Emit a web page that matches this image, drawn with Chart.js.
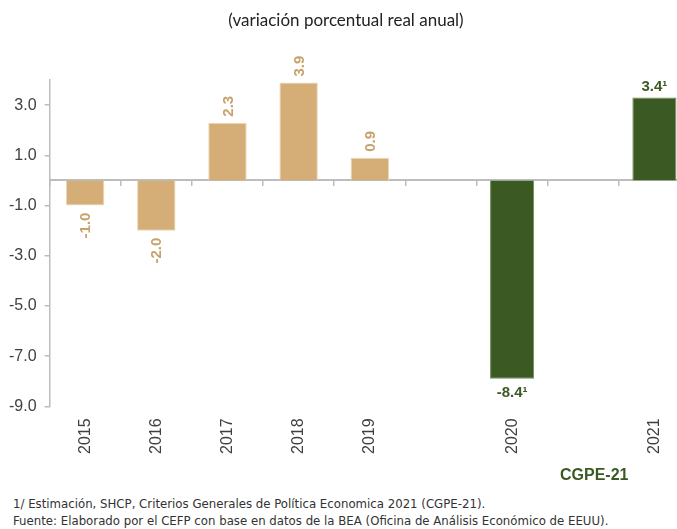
<!DOCTYPE html>
<html>
<head>
<meta charset="utf-8">
<script src="https://cdn.jsdelivr.net/npm/chart.js@4"></script>
<style>
  html, body { margin: 0; padding: 0; background: #fff; overflow: hidden; }
  body { width: 677px; height: 529px; position: relative; }
  #chart { position: absolute; left: 0; top: 0; }
  .titulo { position: absolute; left: 0; width: 692px; top: 9px; text-align: center;
    font: 17px Lato, sans-serif; color: #222; }
  .fuente { position: absolute; left: 13px; font: 11.75px "DejaVu Sans", sans-serif; color: #333; white-space: nowrap; }
  .cgpe { position: absolute; left: 560px; top: 466px; font: bold 16px "Liberation Sans", sans-serif; color: #3b5a23; }
</style>
</head>
<body>
<canvas id="chart" width="700" height="483"></canvas>
<div class="titulo">(variación porcentual real anual)</div>
<div class="cgpe">CGPE-21</div>
<div class="fuente" style="top:497px">1/ Estimación, SHCP, Criterios Generales de Política Economica 2021 (CGPE-21).</div>
<div class="fuente" style="top:514px">Fuente: Elaborado por el CEFP con base en datos de la BEA (Oficina de Análisis Económico de EEUU).</div>
<script>
// categorias (los huecos vacios separan los anios estimados)
const anios = ["2015", "2016", "2017", "2018", "2019", "", "2020", "", "2021"];

// observado
const observado = [-1.0, -2.0, 2.3, 3.9, 0.9, null, null, null, null];
// estimado CGPE-21 (altura de barra como se ve en la grafica)
const estimado = [null, null, null, null, null, null, -7.9, null, 3.3];
// texto de etiquetas
const etiquetas = ["-1.0", "-2.0", "2.3", "3.9", "0.9", "", "-8.4\u00b9", "", "3.4\u00b9"];

const ticksY = [-9, -7, -5, -3, -1, 1, 3];

const colorObs = "#d4ad77";
const colorEst = "#3b5a23";
const gris = "#bdbdbd";
const texto = "#404040";

// ================== etiquetas de valor ==================
const etiquetasPlugin = {
  id: "etiquetas",
  afterDatasetsDraw(chart) {
    const ctx = chart.ctx;
    chart.data.datasets.forEach((ds, di) => {
      const meta = chart.getDatasetMeta(di);
      meta.data.forEach((bar, i) => {
        const v = ds.data[i];
        if (v === null) return;
        ctx.save();
        if (di === 0) {
          ctx.fillStyle = "#c9a16b";
          ctx.font = "bold 15px 'Liberation Sans', sans-serif";
          ctx.textBaseline = "middle";
          if (v >= 0) {
            ctx.translate(bar.x, bar.y - 6);
            ctx.rotate(-Math.PI / 2);
            ctx.textAlign = "left";
          } else {
            ctx.translate(bar.x, bar.y + 7);
            ctx.rotate(-Math.PI / 2);
            ctx.textAlign = "right";
          }
          ctx.fillText(etiquetas[i], 0, 1);
        } else {
          ctx.fillStyle = colorEst;
          ctx.font = "bold 15px 'Liberation Sans', sans-serif";
          ctx.textAlign = "center";
          ctx.textBaseline = "middle";
          ctx.fillText(etiquetas[i], bar.x, v >= 0 ? bar.y - 11 : bar.y + 14);
        }
        ctx.restore();
      });
    });
  },
};

const ctx = document.getElementById("chart").getContext("2d");
new Chart(ctx, {
  type: "bar",
  data: {
    labels: anios,
    datasets: [
      {
        label: "Observado",
        data: observado,
        backgroundColor: colorObs,
        borderColor: "#ecd7b8",
        borderWidth: 1,
        barPercentage: 0.54,
        categoryPercentage: 1,
        grouped: false,
      },
      {
        label: "Estimado",
        data: estimado,
        backgroundColor: colorEst,
        borderColor: "#6f8a55",
        borderWidth: 1,
        barPercentage: 0.62,
        categoryPercentage: 1,
        grouped: false,
      },
    ],
  },
  options: {
    responsive: false,
    animation: false,
    events: [],
    layout: { padding: { top: 80, left: 1, right: 10, bottom: 25 } },
    plugins: {
      legend: { display: false },
      tooltip: { enabled: false },
    },
    scales: {
      x: {
        grid: { display: false },
        border: { display: false },
        ticks: {
          color: texto,
          font: { size: 16, family: "'Liberation Sans', sans-serif" },
          minRotation: 90,
          maxRotation: 90,
          padding: 4,
          autoSkip: false,
        },
      },
      x0: {
        type: "category",
        axis: "x",
        position: { y: 0 },
        offset: true,
        grid: { offset: true, drawOnChartArea: false, tickLength: 5, color: gris, lineWidth: 1.5 },
        border: { color: gris, width: 2 },
        ticks: { display: false },
      },
      y: {
        min: -9,
        max: 4,
        afterBuildTicks: (scale) => {
          scale.ticks = ticksY.map((v) => ({ value: v }));
        },
        grid: { drawOnChartArea: false, tickLength: 5, color: gris, lineWidth: 1.5 },
        border: { color: gris, width: 1.5 },
        ticks: {
          color: texto,
          font: { size: 16, family: "'Liberation Sans', sans-serif" },
          padding: 8,
          callback: (v) => Number(v).toFixed(1),
        },
      },
    },
  },
  plugins: [etiquetasPlugin],
});
</script>
</body>
</html>
